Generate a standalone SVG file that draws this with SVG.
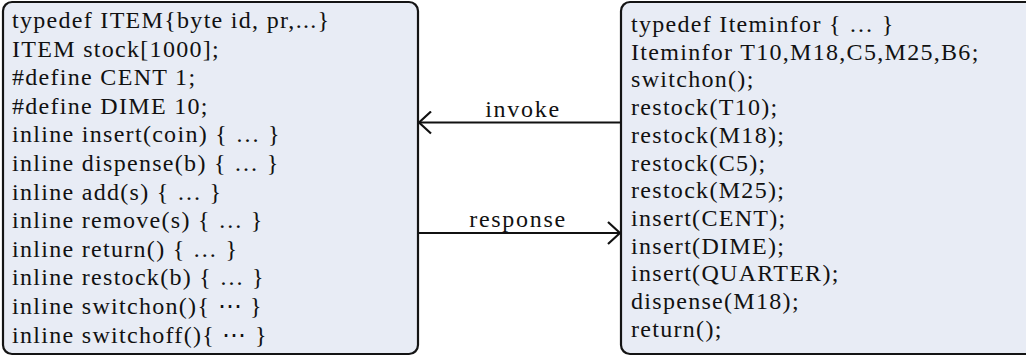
<svg xmlns="http://www.w3.org/2000/svg" width="1026" height="358" viewBox="0 0 1026 358">
  <style>
    .box { fill: #e8ecf5; stroke: #141414; stroke-width: 2.2; }
    .code { font-family: "Liberation Serif", "Times New Roman", serif; font-size: 24px; letter-spacing: 1.3px; fill: #111; }
    .lbl { font-family: "Liberation Serif", "Times New Roman", serif; font-size: 24px; letter-spacing: 1.7px; fill: #111; text-anchor: middle; }
    .conn { stroke: #111; stroke-width: 2.2; fill: none; }
  </style>
  <defs>
    <marker id="open" viewBox="0 0 14 24" markerWidth="14" markerHeight="24" refX="13" refY="12" orient="auto" markerUnits="userSpaceOnUse">
      <path d="M1,1 L13,12 L1,23" fill="none" stroke="#111" stroke-width="2.2"/>
    </marker>
  </defs>

  <g id="model">
    <rect class="box" x="3" y="2" width="415" height="352" rx="9"/>
    <text class="code">
      <tspan x="12" y="28">typedef ITEM{byte id, pr,...}</tspan>
      <tspan x="12" y="56.6">ITEM stock[1000];</tspan>
      <tspan x="12" y="85.2">#define CENT 1;</tspan>
      <tspan x="12" y="113.8">#define DIME 10;</tspan>
      <tspan x="12" y="142.4">inline insert(coin) { … }</tspan>
      <tspan x="12" y="171">inline dispense(b) { … }</tspan>
      <tspan x="12" y="199.6">inline add(s) { … }</tspan>
      <tspan x="12" y="228.2">inline remove(s) { … }</tspan>
      <tspan x="12" y="256.8">inline return() { … }</tspan>
      <tspan x="12" y="285.4">inline restock(b) { … }</tspan>
      <tspan x="12" y="314">inline switchon(){ ⋯ }</tspan>
      <tspan x="12" y="342.6">inline switchoff(){ ⋯ }</tspan>
    </text>
  </g>

  <g id="driver">
    <rect class="box" x="621" y="2" width="415" height="352" rx="9"/>
    <text class="code">
      <tspan x="631" y="32">typedef Iteminfor { … }</tspan>
      <tspan x="631" y="59.7">Iteminfor T10,M18,C5,M25,B6;</tspan>
      <tspan x="631" y="87.4">switchon();</tspan>
      <tspan x="631" y="115.1">restock(T10);</tspan>
      <tspan x="631" y="142.8">restock(M18);</tspan>
      <tspan x="631" y="170.5">restock(C5);</tspan>
      <tspan x="631" y="198.2">restock(M25);</tspan>
      <tspan x="631" y="225.9">insert(CENT);</tspan>
      <tspan x="631" y="253.6">insert(DIME);</tspan>
      <tspan x="631" y="281.3">insert(QUARTER);</tspan>
      <tspan x="631" y="309">dispense(M18);</tspan>
      <tspan x="631" y="336.7">return();</tspan>
    </text>
  </g>

  <g id="connectors">
    <line class="conn" x1="621" y1="122.5" x2="419" y2="122.5" marker-end="url(#open)"/>
    <text class="lbl" x="523" y="117">invoke</text>
    <line class="conn" x1="418" y1="233" x2="620" y2="233" marker-end="url(#open)"/>
    <text class="lbl" x="518" y="227">response</text>
  </g>
</svg>
